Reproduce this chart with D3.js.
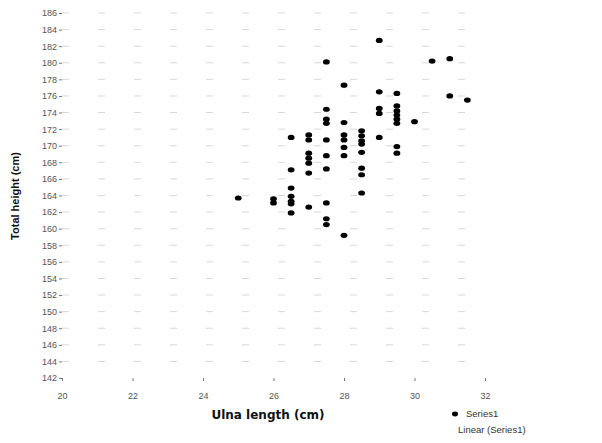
<!DOCTYPE html>
<html>
<head>
<meta charset="utf-8">
<script src="https://cdn.jsdelivr.net/npm/d3@7"></script>
<style>
  body { margin: 0; background: #fff; }
  svg { display: block; }
</style>
</head>
<body>
<div id="chart"></div>
<script>
// ulna length (cm) of each point, and the matching total height (cm)
var ulna = [
  25,
  26, 26,
  26.5, 26.5, 26.5, 26.5, 26.5, 26.5, 26.5,
  27, 27, 27, 27, 27, 27, 27,
  27.5, 27.5, 27.5, 27.5, 27.5, 27.5, 27.5, 27.5, 27.5, 27.5,
  28, 28, 28, 28, 28, 28, 28,
  28.5, 28.5, 28.5, 28.5, 28.5, 28.5, 28.5, 28.5,
  29, 29, 29, 29, 29,
  29.5, 29.5, 29.5, 29.5, 29.5, 29.5, 29.5, 29.5,
  30,
  30.5,
  31, 31,
  31.5
];
var height = [
  163.7,
  163.6, 163.1,
  171.0, 167.1, 164.9, 163.9, 163.3, 163.0, 161.9,
  171.3, 170.7, 169.1, 168.5, 167.9, 166.7, 162.6,
  180.1, 174.4, 173.2, 172.7, 170.7, 168.8, 167.2, 163.1, 161.2, 160.5,
  177.3, 172.8, 171.3, 170.7, 169.8, 168.8, 159.2,
  171.8, 171.2, 170.6, 170.2, 169.2, 167.3, 166.5, 164.3,
  182.7, 176.5, 174.5, 173.9, 171.0,
  176.3, 174.8, 174.2, 173.7, 173.2, 172.7, 169.9, 169.1,
  172.9,
  180.2,
  180.5, 176.0,
  175.5
];
var xTicks = [20, 22, 24, 26, 28, 30, 32];
var yTicks = d3.range(142, 187, 2);
var legendLabels = ["Series1", "Linear (Series1)"];

var data = ulna.map(function(u, i) { return {x: u, y: height[i]}; });

var W = 602, H = 443;
var margin = {top: 13, right: 117, bottom: 65, left: 62},
  ancho = W - margin.left - margin.right,
  altura = H - margin.top - margin.bottom;

var svg = d3.select("#chart")
  .append("svg")
    .attr("width", W)
    .attr("height", H)
    .style("font-family", "'Liberation Sans', Arial, sans-serif");

var g = svg.append("g")
  .attr("transform", "translate(" + margin.left + "," + margin.top + ")");

var x = d3.scaleLinear().domain([20, 32]).range([0, ancho]);
var y = d3.scaleLinear().domain([142, 186]).range([altura, 0]);

// faded gridlines (the scan only kept pieces of them)
g.selectAll(".grid")
  .data(yTicks.slice(1))
  .enter()
  .append("line")
    .attr("x1", 0)
    .attr("x2", ancho)
    .attr("y1", function(d) { return y(d); })
    .attr("y2", function(d) { return y(d); })
    .style("stroke", "#d8d8d8")
    .style("stroke-width", 1)
    .style("stroke-dasharray", "7,29");

// eje x
var ax = g.append("g")
  .attr("transform", "translate(0," + altura + ")")
  .call(d3.axisBottom(x).tickValues(xTicks).tickSize(3).tickPadding(12));
ax.select(".domain").remove();

// eje y
var ay = g.append("g")
  .call(d3.axisLeft(y).tickValues(yTicks).tickSize(3).tickPadding(2));
ay.select(".domain").remove();

[ax, ay].forEach(function(a) {
  a.selectAll("line").style("stroke", "#777");
  a.selectAll("text")
    .style("font-size", "9px")
    .style("fill", "#555")
    .style("font-family", "'Liberation Sans', Arial, sans-serif");
});

// puntos
g.selectAll(".pt")
  .data(data)
  .enter()
  .append("ellipse")
    .attr("cx", function(d) { return x(d.x); })
    .attr("cy", function(d) { return y(d.y); })
    .attr("rx", 3.4)
    .attr("ry", 2.6)
    .style("fill", "#000");

// titulos
svg.append("text")
  .attr("x", 268)
  .attr("y", 419)
  .attr("text-anchor", "middle")
  .style("font-family", "'DejaVu Sans', Verdana, sans-serif")
  .style("font-weight", "bold")
  .style("font-size", "12px")
  .style("fill", "#111")
  .text("Ulna length (cm)");

svg.append("text")
  .attr("transform", "translate(19,196) rotate(-90)")
  .attr("text-anchor", "middle")
  .style("font-weight", "bold")
  .style("font-size", "11px")
  .style("fill", "#111")
  .text("Total height (cm)");

// leyenda
svg.append("ellipse")
  .attr("cx", 455)
  .attr("cy", 414)
  .attr("rx", 3)
  .attr("ry", 2.4)
  .style("fill", "#000");

svg.selectAll(".leg")
  .data(legendLabels)
  .enter()
  .append("text")
    .attr("x", function(d, i) { return i === 0 ? 466 : 458; })
    .attr("y", function(d, i) { return 417 + i * 16; })
    .style("font-size", "9.5px")
    .style("fill", "#333")
    .text(function(d) { return d; });
</script>
</body>
</html>
